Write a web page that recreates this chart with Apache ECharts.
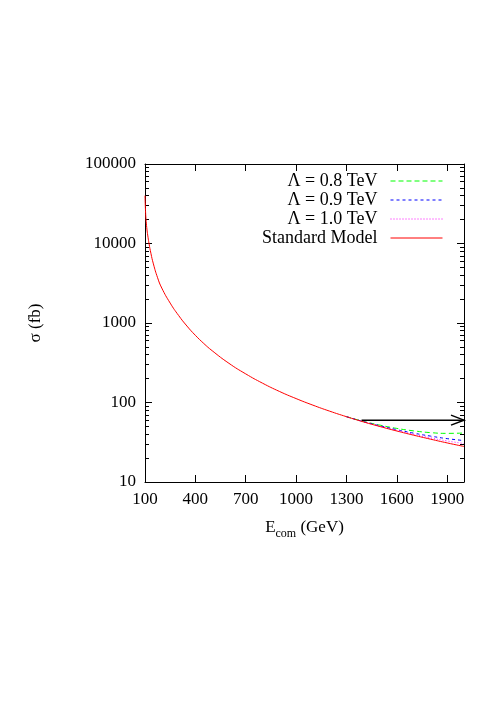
<!DOCTYPE html>
<html>
<head>
<meta charset="utf-8">
<script src="https://cdn.jsdelivr.net/npm/echarts@6/dist/echarts.min.js"></script>
<style>
html,body{margin:0;padding:0;background:#fff;}
#chart{width:491px;height:701px;}
</style>
</head>
<body>
<div id="chart"></div>
<script>
// ---- data ----
const smE = [100,103,107,112,118,124,135,150,175,200,250,300,350,400,450,500,600,700,800,900,1000,1100,1200,1300,1400,1500,1600,1700,1800,1900,2000];
const smSigma = [40000,26000,19000,14800,12000,10000,7550,5540,3710,2750,1780,1245,915,700,553,448,311,229,175,138,112,92.6,77.8,66.3,57.1,49.8,43.8,38.8,34.6,31,28];
const bsmE = [1300,1400,1500,1600,1700,1800,1900,2000];
const lam08 = [66.3,58,51.9,47.2,44,41.8,40.9,41.3];
const lam09 = [66.3,57.6,50.9,45.5,41.2,37.8,35.1,33.2];
const lam10 = [66.3,57.4,50.3,44.6,39.8,35.9,32.8,30.5];
const seriesNames = ['Λ = 0.8 TeV','Λ = 0.9 TeV','Λ = 1.0 TeV','Standard Model'];
const arrowStart = [1390, 60];
const arrowEnd = [2000, 60];
const xTicks = [100,400,700,1000,1300,1600,1900];
const yTicks = [10,100,1000,10000,100000];
const yMinorTicks = [20,30,40,50,60,70,80,90,200,300,400,500,600,700,800,900,2000,3000,4000,5000,6000,7000,8000,9000,20000,30000,40000,50000,60000,70000,80000,90000];

const pairs = (xs, ys) => xs.map((x, i) => [x, ys[i]]);
const FONT = 'Liberation Serif';

const chart = echarts.init(document.getElementById('chart'), null, {renderer: 'canvas'});

function xAx(pos, showLabel) {
  return {
    type: 'value', min: 100, max: 2000, position: pos, gridIndex: 0,
    axisLine: {show: true, onZero: false, lineStyle: {color: '#000', width: 1}},
    axisTick: {show: true, inside: true, length: 7, customValues: xTicks, lineStyle: {color: '#000', width: 1}},
    axisLabel: {show: showLabel, customValues: xTicks, margin: 9, color: '#000', fontFamily: FONT, fontSize: 17,
      formatter: v => String(Math.round(v))},
    splitLine: {show: false},
    name: showLabel ? '{m|E}{s|com}{m| (GeV)}' : '',
    nameLocation: 'middle', nameGap: 37,
    nameTextStyle: {color: '#000', fontFamily: FONT, fontSize: 17,
      rich: {m: {fontFamily: FONT, fontSize: 17, color: '#000', verticalAlign: 'top', lineHeight: 20},
             s: {fontFamily: FONT, fontSize: 12, color: '#000', verticalAlign: 'top', lineHeight: 20, padding: [9, 0, 0, 0]}}}
  };
}
function yAx(pos, showLabel, ticks, len, showLine) {
  return {
    type: 'log', logBase: 10, min: 10, max: 100000, position: pos, gridIndex: 0,
    axisLine: {show: showLine, onZero: false, lineStyle: {color: '#000', width: 1}},
    axisTick: {show: true, inside: true, length: len, customValues: ticks, lineStyle: {color: '#000', width: 1}},
    axisLabel: {show: showLabel, customValues: ticks, margin: 9, color: '#000', fontFamily: FONT, fontSize: 17,
      formatter: v => String(Math.round(v))},
    splitLine: {show: false},
    minorTick: {show: false},
    name: showLabel ? 'σ (fb)' : '',
    nameLocation: 'middle', nameGap: 101, nameRotate: 90,
    nameTextStyle: {color: '#000', fontFamily: FONT, fontSize: 17}
  };
}

const lineSeries = (name, data, color, type, z) => ({
  name, type: 'line', data, xAxisIndex: 0, yAxisIndex: 0,
  symbol: 'none', showSymbol: false, smooth: 0.5,
  lineStyle: {color, width: 1, type}, itemStyle: {color}, z, animation: false
});

const option = {
  animation: false,
  backgroundColor: '#fff',
  grid: {left: 145, right: 27, top: 164, bottom: 219, containLabel: false, outerBoundsMode: 'none', show: false},
  legend: {
    show: true, orient: 'vertical', align: 'right', right: 43, top: 167,
    itemWidth: 52, itemHeight: 14, itemGap: 1,
    itemStyle: {opacity: 0},
    lineStyle: {width: 1},
    textStyle: {color: '#000', fontFamily: FONT, fontSize: 18, padding: [0, 8, 0, 0]},
    data: seriesNames.map(n => ({name: n}))
  },
  xAxis: [xAx('bottom', true), xAx('top', false)],
  yAxis: [yAx('left', true, yTicks, 7, true), yAx('left', false, yMinorTicks, 4, false),
          yAx('right', false, yTicks, 7, true), yAx('right', false, yMinorTicks, 4, false)],
  series: [
    lineSeries(seriesNames[0], pairs(bsmE, lam08), '#00ff00', [5, 3], 2),
    lineSeries(seriesNames[1], pairs(bsmE, lam09), '#0000ff', [3, 3], 3),
    lineSeries(seriesNames[2], pairs(bsmE, lam10), '#ff00ff', [1, 2], 4),
    lineSeries(seriesNames[3], pairs(smE, smSigma), '#ff0000', 'solid', 5),
    {
      type: 'custom', xAxisIndex: 0, yAxisIndex: 0, clip: false, z: 6, silent: true,
      data: [[arrowStart[0], arrowStart[1], arrowEnd[0], arrowEnd[1]]],
      renderItem: function (params, api) {
        const p0 = api.coord([api.value(0), api.value(1)]);
        const p1 = api.coord([api.value(2), api.value(3)]);
        const st = {stroke: '#000', lineWidth: 1.5, fill: null};
        return {type: 'group', children: [
          {type: 'line', shape: {x1: p0[0], y1: p0[1], x2: p1[0], y2: p1[1]}, style: st},
          {type: 'polyline', shape: {points: [[p1[0] - 13, p1[1] - 5], [p1[0], p1[1]], [p1[0] - 13, p1[1] + 5]]}, style: st}
        ]};
      }
    }
  ]
};
chart.setOption(option);
</script>
</body>
</html>
